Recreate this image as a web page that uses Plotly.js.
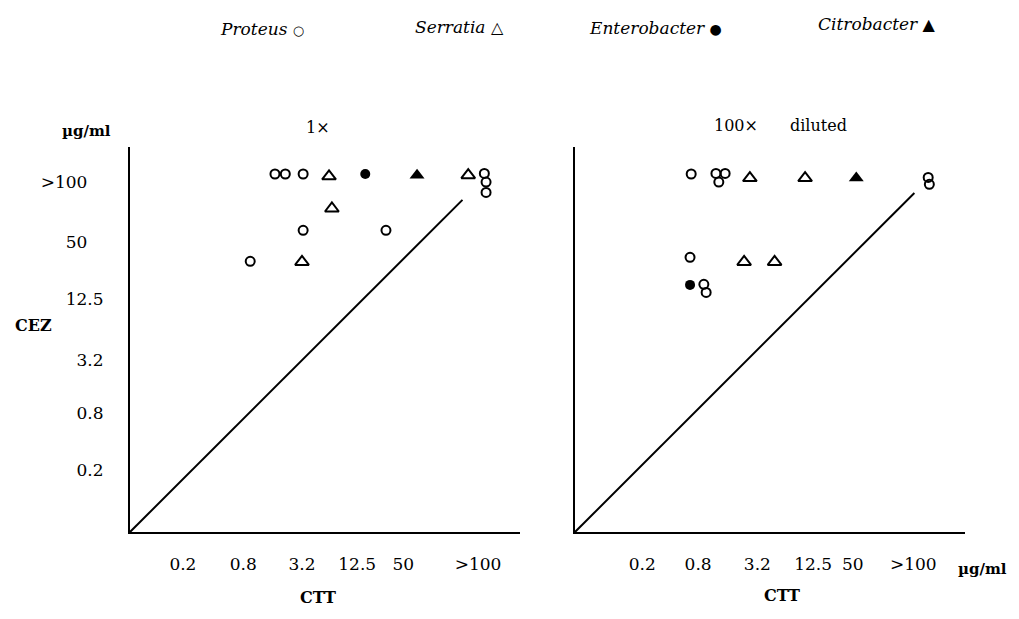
<!DOCTYPE html>
<html>
<head>
<meta charset="utf-8">
<script src="https://cdn.plot.ly/plotly-3.0.1.min.js"></script>
<style>html,body{margin:0;padding:0;background:#fff;}#chart{width:1019px;height:619px;}</style>
</head>
<body>
<div id="chart"></div>
<script>
// Axis positions are in "dilution steps" (one step between neighbouring concentrations)
const tickLabels = ['0.2', '0.8', '3.2', '12.5', '50', '>100'];
const xTickPosLeft = [0.92, 1.97, 2.99, 3.95, 4.75, 6.05];
const xTickPosRight = [1.17, 2.14, 3.17, 4.14, 4.83, 5.88];
const yTickPos = [1.08, 2.07, 2.99, 4.05, 5.04, 6.09];
const yTickText = ['0.2', '0.8', '3.2', '12.5', '50&nbsp;&nbsp;&nbsp;', '>100&nbsp;&nbsp;&nbsp;'];

// Panel 1: undiluted (1x)
const proteus1X = [2.52, 2.70, 3.01, 6.16, 6.19, 6.19, 3.01, 4.45, 2.09];
const proteus1Y = [6.23, 6.23, 6.23, 6.24, 6.09, 5.91, 5.25, 5.25, 4.71];
const serratia1X = [3.46, 5.88, 3.51, 2.99];
const serratia1Y = [6.19, 6.21, 5.63, 4.70];
const entero1X = [4.09];
const entero1Y = [6.23];
const citro1X = [4.99];
const citro1Y = [6.21];
const diag1 = [0, 5.78];

// Panel 2: 100x diluted
const proteus2X = [2.02, 2.45, 2.61, 2.50, 6.14, 6.16, 2.00, 2.24, 2.28];
const proteus2Y = [6.23, 6.24, 6.24, 6.09, 6.17, 6.05, 4.78, 4.31, 4.17];
const serratia2X = [3.04, 4.00, 2.94, 3.47];
const serratia2Y = [6.16, 6.16, 4.70, 4.70];
const entero2X = [2.00];
const entero2Y = [4.30];
const citro2X = [4.89];
const citro2Y = [6.16];
const diag2 = [0, 5.90];

const FONT = 'DejaVu Serif, Liberation Serif, serif';

const openCircle = {symbol: 'circle-open', size: 9, color: '#000', line: {width: 2, color: '#000'}};
const openTri = {symbol: 'triangle-up-open', size: 12, color: '#000', line: {width: 2, color: '#000'}};
const filledCircle = {symbol: 'circle', size: 10, color: '#000'};
const filledTri = {symbol: 'triangle-up', size: 13, color: '#000'};

function pts(x, y, marker, name, xa, ya) {
  return {type: 'scatter', mode: 'markers', x: x, y: y, marker: marker, name: name,
          xaxis: xa, yaxis: ya, showlegend: false, hoverinfo: 'x+y'};
}
function diag(d, xa, ya) {
  return {type: 'scatter', mode: 'lines', x: d, y: d, line: {color: '#000', width: 2},
          xaxis: xa, yaxis: ya, showlegend: false, hoverinfo: 'skip'};
}

const traces = [
  diag(diag1, 'x', 'y'),
  pts(proteus1X, proteus1Y, openCircle, 'Proteus', 'x', 'y'),
  pts(serratia1X, serratia1Y, openTri, 'Serratia', 'x', 'y'),
  pts(entero1X, entero1Y, filledCircle, 'Enterobacter', 'x', 'y'),
  pts(citro1X, citro1Y, filledTri, 'Citrobacter', 'x', 'y'),
  diag(diag2, 'x2', 'y2'),
  pts(proteus2X, proteus2Y, openCircle, 'Proteus', 'x2', 'y2'),
  pts(serratia2X, serratia2Y, openTri, 'Serratia', 'x2', 'y2'),
  pts(entero2X, entero2Y, filledCircle, 'Enterobacter', 'x2', 'y2'),
  pts(citro2X, citro2Y, filledTri, 'Citrobacter', 'x2', 'y2')
];

const W = 1019, H = 619, L = 130, R = 54, T = 147, B = 87;
const pw = W - L - R, ph = H - T - B;
function px(x) { return (x - L) / pw; }
function py(y) { return (H - B - y) / ph; }

const tickFont = {family: FONT, size: 17, color: '#000'};

function xaxisCfg(tv, domain, anchor) {
  return {domain: domain, range: [0, 6.78], anchor: anchor, showgrid: false, zeroline: false,
          showline: true, linecolor: '#000', linewidth: 2, ticks: 'outside', ticklen: 16,
          tickcolor: 'rgba(0,0,0,0)', tickmode: 'array', tickvals: tv, ticktext: tickLabels,
          tickfont: tickFont, fixedrange: true};
}
function yaxisCfg(anchor, showLabels) {
  return {domain: [0, 1], range: [0, 6.70], anchor: anchor, showgrid: false, zeroline: false,
          showline: true, linecolor: '#000', linewidth: 2, ticks: showLabels ? 'outside' : '',
          ticklen: 21, tickcolor: 'rgba(0,0,0,0)', tickmode: 'array', tickvals: yTickPos,
          ticktext: yTickText, showticklabels: showLabels,
          tickfont: tickFont, fixedrange: true};
}

function ann(text, x, y, size, extra) {
  return Object.assign({text: text, xref: 'paper', yref: 'paper', x: px(x), y: py(y),
    xanchor: 'center', yanchor: 'middle', showarrow: false,
    font: {family: FONT, size: size, color: '#000'}}, extra || {});
}
function bold(text, x, y, size) {
  return ann(text, x, y, size, {font: {family: FONT, size: size, color: '#000', weight: 'bold'}});
}
const sym = (s, fs) => '<span style="font-size:' + fs + 'px">' + s + '</span>';

const annotations = [
  ann('<i>Proteus</i> ' + sym('○', 13), 262, 29, 17),
  ann('<i>Serratia</i> ' + sym('△', 16), 459, 27, 17),
  ann('<i>Enterobacter</i> ' + sym('●', 14), 655, 28, 17),
  ann('<i>Citrobacter</i> ' + sym('▲', 16), 877, 24, 17),
  ann('1×', 318, 127, 16),
  ann('100×', 736, 125, 16),
  ann('diluted', 818, 125, 16),
  bold('µg/ml', 86, 131, 15),
  bold('CEZ', 33, 325, 16),
  bold('CTT', 318, 597, 16),
  bold('CTT', 782, 595, 16),
  bold('µg/ml', 983, 569, 15)
];

const layout = {
  width: W, height: H,
  margin: {l: L, r: R, t: T, b: B, pad: 0},
  paper_bgcolor: '#fff', plot_bgcolor: '#fff',
  showlegend: false,
  xaxis: xaxisCfg(xTickPosLeft, [0, 390 / pw], 'y'),
  yaxis: yaxisCfg('x', true),
  xaxis2: xaxisCfg(xTickPosRight, [445 / pw, 1], 'y2'),
  yaxis2: yaxisCfg('x2', false),
  annotations: annotations,
  font: {family: FONT, color: '#000'}
};

Plotly.newPlot('chart', traces, layout, {displayModeBar: false, staticPlot: true});
</script>
</body>
</html>
